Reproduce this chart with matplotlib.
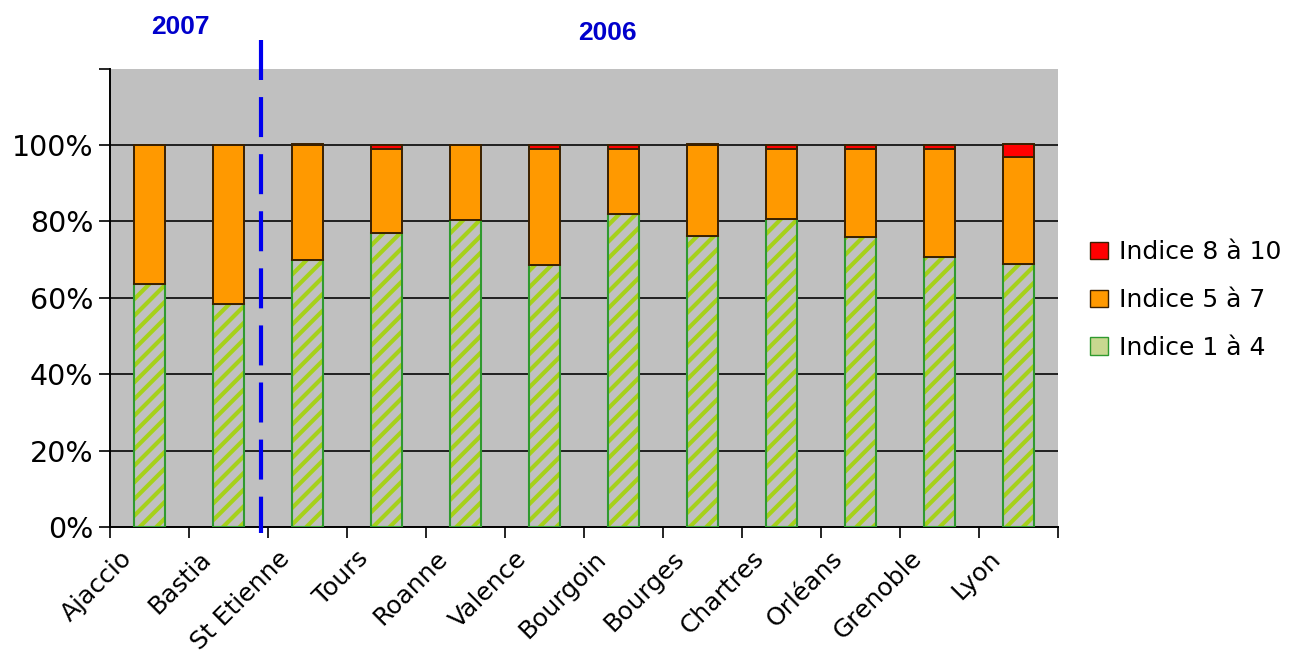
import numpy as np
import matplotlib
matplotlib.use("Agg")
import matplotlib.pyplot as plt
import matplotlib.transforms as mtrans
from matplotlib.patches import Patch

plt.rcParams['font.family'] = ['DejaVu Sans']
plt.rcParams['hatch.linewidth'] = 3.0

villes = ['Ajaccio', 'Bastia', 'St Etienne', 'Tours', 'Roanne', 'Valence',
          'Bourgoin', 'Bourges', 'Chartres', 'Orléans', 'Grenoble', 'Lyon']
indice_1_4 = [63.6, 58.4, 70.0, 77.0, 80.4, 68.5, 82.0, 76.2, 80.6, 75.8, 70.6, 68.8]
indice_5_7 = [36.4, 41.6, 30.0, 22.0, 19.6, 30.5, 17.0, 23.8, 18.4, 23.2, 28.4, 28.0]
indice_8_10 = [0.0, 0.0, 0.3, 1.0, 0.0, 1.0, 1.0, 0.3, 1.0, 1.0, 1.0, 3.4]
y_ticks = [0, 20, 40, 60, 80, 100]

gris = '#C0C0C0'
vert = '#A6D11A'
vert_bord = '#2F9A2F'
orange = '#FF9900'
rouge = '#FF0000'
brun = '#3a2000'

fig = plt.figure(figsize=(12.92, 6.52), dpi=100)
ax = fig.add_axes([0.0851, 0.1917, 0.7338, 0.7031])
ax.set_facecolor(gris)

x = np.arange(len(villes))
w = 0.4
b1 = np.array(indice_1_4)
b2 = b1 + np.array(indice_5_7)

# grille horizontale derriere les barres
for v in [20, 40, 60, 80, 100]:
    ax.axhline(v, color='#202020', lw=1.4, zorder=1)

# hachures vertes puis contour
ax.bar(x, indice_1_4, w, color=gris, edgecolor=vert, hatch='//', lw=0, zorder=2)
ax.bar(x, indice_1_4, w, color='none', edgecolor=vert_bord, lw=1.5, zorder=3)
ax.bar(x, indice_5_7, w, bottom=b1, color=orange, edgecolor=brun, lw=1.4, zorder=3)
ax.bar(x, indice_8_10, w, bottom=b2, color=rouge, edgecolor=brun, lw=1.4, zorder=3)

ax.set_xlim(-0.5, len(villes) - 0.5)
ax.set_ylim(0, 120)

ax.set_yticks(y_ticks + [120])
ax.set_yticklabels([f'{v}%' for v in y_ticks] + [''], fontsize=20.5)
ax.tick_params(axis='y', length=8, width=1.2, direction='out', pad=4)

ax.set_xticks(x)
ax.set_xticklabels(villes, fontsize=18, rotation=45, ha='right', rotation_mode='anchor')
ax.tick_params(axis='x', length=0, pad=24)
decal = mtrans.ScaledTranslation(-0.30, 0.14, fig.dpi_scale_trans)
for lbl in ax.get_xticklabels():
    lbl.set_transform(lbl.get_transform() + decal)
ax.set_xticks(np.arange(-0.5, len(villes)), minor=True)
ax.tick_params(axis='x', which='minor', length=8, width=1.2, direction='out')

for s in ['top', 'right']:
    ax.spines[s].set_visible(False)
ax.spines['left'].set_linewidth(1.4)
ax.spines['bottom'].set_linewidth(1.4)

# separation 2007 / 2006
ax.plot([1.41, 1.41], [127.5, -1.6], color='#0000EE', lw=3, ls=(0, (9.6, 4.1)),
        clip_on=False, zorder=5, solid_capstyle='butt', dash_capstyle='butt')
fig.text(180 / 1292, 1 - 27 / 652, '2007', color='#0000CC', fontsize=19,
         fontweight='bold', ha='center', va='center', family='Liberation Sans')
fig.text(607 / 1292, 1 - 33 / 652, '2006', color='#0000CC', fontsize=19,
         fontweight='bold', ha='center', va='center', family='Liberation Sans')

handles = [
    Patch(facecolor=rouge, edgecolor=brun, label='Indice 8 à 10'),
    Patch(facecolor=orange, edgecolor=brun, label='Indice 5 à 7'),
    Patch(facecolor='#C8D890', edgecolor=vert_bord, label='Indice 1 à 4'),
]
fig.legend(handles=handles, loc='center left', bbox_to_anchor=(1090 / 1292, 1 - 300 / 652),
           frameon=False, fontsize=18, handlelength=0.7, handleheight=0.7,
           handletextpad=0.45, labelspacing=0.95, borderaxespad=0, borderpad=0)

fig.savefig('out.png', dpi=100)
